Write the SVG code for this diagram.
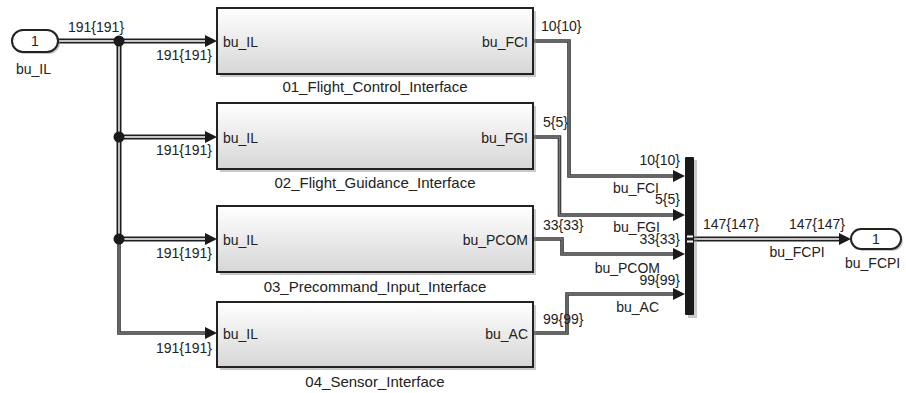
<svg xmlns="http://www.w3.org/2000/svg" width="906" height="393" viewBox="0 0 906 393">
<defs>
<linearGradient id="bg" x1="0" y1="0" x2="0" y2="1">
<stop offset="0" stop-color="#ffffff"/>
<stop offset="1" stop-color="#d6d6d6"/>
</linearGradient>
<marker id="ah" markerWidth="12" markerHeight="12" refX="12" refY="6" orient="auto" markerUnits="userSpaceOnUse">
<path d="M0,0 L12,6 L0,12 Z" fill="#1a1a1a"/>
</marker>
</defs>
<style>
text{font-family:"Liberation Sans",Arial,sans-serif;font-size:14px;fill:#222}
.nm{font-size:15px}
.e{text-anchor:end}
.m{text-anchor:middle}
.blk{fill:url(#bg);stroke:#222;stroke-width:2}
.sh{fill:#888;opacity:0.45}
.busO{fill:none;stroke:#1e1e1e;stroke-width:5}
.busI{fill:none;stroke:#fff;stroke-width:1.4}
.sigO{fill:none;stroke:#333;stroke-width:3.6}
.sigI{fill:none;stroke:#7a7a7a;stroke-width:1.4}
.port{fill:#fff;stroke:#222;stroke-width:2}
</style>

<g id="connectors">
<!-- input bus trunk -->
<path class="busO" d="M58,41 H205 M119,41 V239 M119,137 H205 M119,239 H205"/>
<path class="busI" d="M58,41 H205 M119,41 V239 M119,137 H205 M119,239 H205"/>
<path class="sigO" d="M119,239 V333 H205"/>
<path class="sigI" d="M119,239 V333 H205"/>
<path d="M205,35 L217,41 L205,47 Z M205,131 L217,137 L205,143 Z M205,233 L217,239 L205,245 Z M205,327 L217,333 L205,339 Z" fill="#1a1a1a"/>
<circle cx="119" cy="41" r="5.5" fill="#1a1a1a"/>
<circle cx="119" cy="137" r="5.5" fill="#1a1a1a"/>
<circle cx="119" cy="239" r="5.5" fill="#1a1a1a"/>
<!-- block outputs to mux -->
<path class="sigO" d="M533,41 H569 V176 H673 M533,137 H559.5 V215 H673 M533,239 H562 V254 H673 M533,333 H567 V294 H673"/>
<path class="sigI" d="M533,41 H569 V176 H673 M533,137 H559.5 V215 H673 M533,239 H562 V254 H673 M533,333 H567 V294 H673"/>
<path d="M673,170 L685,176 L673,182 Z M673,209 L685,215 L673,221 Z M673,248 L685,254 L673,260 Z M673,288 L685,294 L673,300 Z" fill="#1a1a1a"/>
<!-- mux output bus -->
<path class="busO" d="M694,239 H839"/>
<path class="busI" d="M694,239 H839"/>
<path d="M839,233 L851,239 L839,245 Z" fill="#1a1a1a"/>
</g>

<g id="inport_bu_IL">
<rect x="14" y="32" width="46" height="22" rx="11" class="sh"/>
<rect x="12" y="30" width="46" height="22" rx="11" class="port"/>
<text x="35" y="46" class="m">1</text>
<text x="16" y="74">bu_IL</text>
</g>

<g id="block_01">
<rect x="220" y="11" width="316" height="66" class="sh"/>
<rect x="217" y="8" width="316" height="66" class="blk"/>
<text x="223" y="46.5">bu_IL</text>
<text x="528" y="46.5" class="e">bu_FCI</text>
<text x="375" y="92" class="m nm">01_Flight_Control_Interface</text>
</g>

<g id="block_02">
<rect x="220" y="106" width="316" height="66" class="sh"/>
<rect x="217" y="103" width="316" height="66" class="blk"/>
<text x="223" y="142.5">bu_IL</text>
<text x="528" y="142.5" class="e">bu_FGI</text>
<text x="375" y="188" class="m nm">02_Flight_Guidance_Interface</text>
</g>

<g id="block_03">
<rect x="220" y="209" width="316" height="66" class="sh"/>
<rect x="217" y="206" width="316" height="66" class="blk"/>
<text x="223" y="244.5">bu_IL</text>
<text x="528" y="244.5" class="e">bu_PCOM</text>
<text x="375" y="292" class="m nm">03_Precommand_Input_Interface</text>
</g>

<g id="block_04">
<rect x="220" y="305" width="316" height="65" class="sh"/>
<rect x="217" y="302" width="316" height="65" class="blk"/>
<text x="223" y="338.5">bu_IL</text>
<text x="528" y="338.5" class="e">bu_AC</text>
<text x="375" y="387" class="m nm">04_Sensor_Interface</text>
</g>

<g id="mux">
<rect x="688" y="160" width="9" height="158" class="sh"/>
<rect x="685" y="157" width="9" height="158" rx="1" fill="#1a1a1a"/>
<rect x="687" y="235.5" width="6" height="2" fill="#fff"/>
<rect x="687" y="240.5" width="6" height="2" fill="#fff"/>
</g>

<g id="outport_bu_FCPI">
<rect x="853" y="231" width="50" height="20" rx="10" class="sh"/>
<rect x="851" y="229" width="50" height="20" rx="10" class="port"/>
<text x="876" y="244" class="m">1</text>
<text x="845" y="268">bu_FCPI</text>
</g>

<g id="labels">
<text x="68" y="32">191{191}</text>
<text x="212" y="60" class="e">191{191}</text>
<text x="212" y="155" class="e">191{191}</text>
<text x="212" y="258" class="e">191{191}</text>
<text x="212" y="353" class="e">191{191}</text>
<text x="541" y="31">10{10}</text>
<text x="543" y="127">5{5}</text>
<text x="543" y="230">33{33}</text>
<text x="543" y="324">99{99}</text>
<text x="680" y="165" class="e">10{10}</text>
<text x="659" y="193" class="e">bu_FCI</text>
<text x="680" y="204" class="e">5{5}</text>
<text x="660" y="232" class="e">bu_FGI</text>
<text x="680" y="244" class="e">33{33}</text>
<text x="660" y="273" class="e">bu_PCOM</text>
<text x="680" y="285" class="e">99{99}</text>
<text x="659" y="312" class="e">bu_AC</text>
<text x="703" y="229">147{147}</text>
<text x="845" y="229" class="e">147{147}</text>
<text x="797" y="257" class="m">bu_FCPI</text>
</g>
</svg>
